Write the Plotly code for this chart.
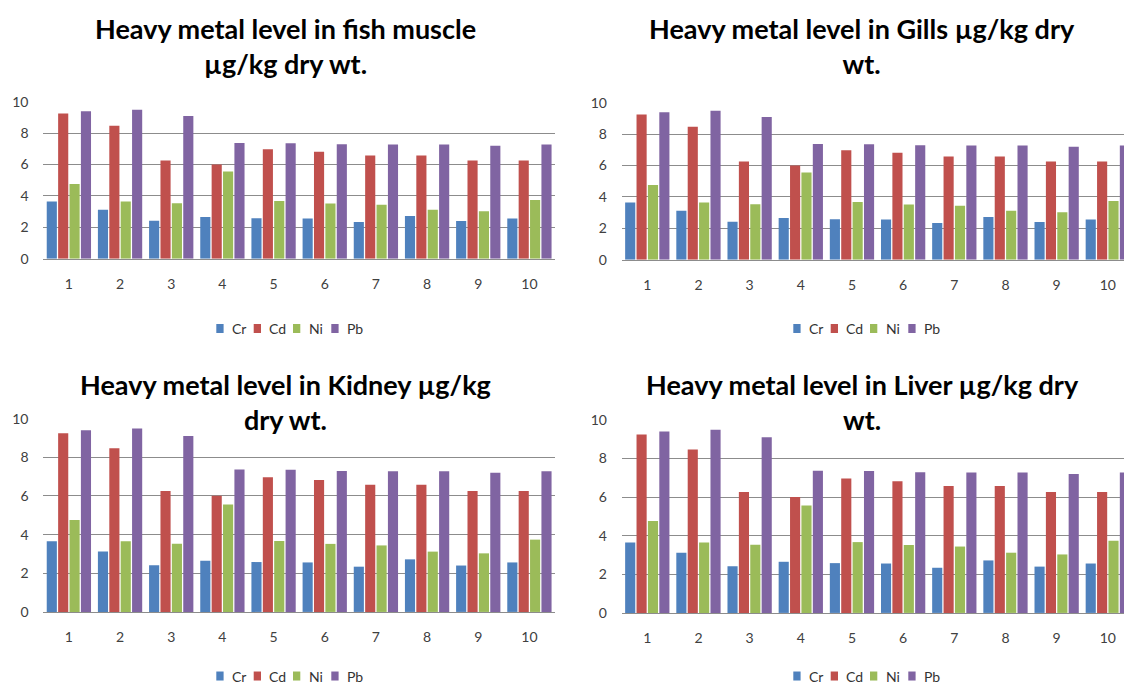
import plotly.graph_objects as go

# ---------------- data ----------------
samples = ["1", "2", "3", "4", "5", "6", "7", "8", "9", "10"]
metals = ["Cr", "Cd", "Ni", "Pb"]
cr = [3.65, 3.12, 2.42, 2.65, 2.58, 2.56, 2.34, 2.72, 2.40, 2.56]
cd = [9.25, 8.47, 6.26, 6.01, 6.97, 6.82, 6.58, 6.58, 6.26, 6.26]
ni = [4.76, 3.65, 3.53, 5.56, 3.67, 3.52, 3.44, 3.12, 3.03, 3.74]
pb = [9.40, 9.49, 9.10, 7.37, 7.36, 7.29, 7.28, 7.28, 7.20, 7.28]
y_ticks = [0, 2, 4, 6, 8, 10]
titles = [
    "Heavy metal level in fish muscle<br>µg/kg dry wt.",
    "Heavy metal level in Gills µg/kg dry<br>wt.",
    "Heavy metal level in Kidney µg/kg<br>dry wt.",
    "Heavy metal level in Liver µg/kg dry<br>wt.",
]

# ---------------- style ----------------
W, H = 1124, 688
colors = ["#4F81BD", "#C0504D", "#9BBB59", "#8064A2"]
series = [cr, cd, ni, pb]
FONT = "Lato"
GRID = "#8c8c8c"

# the captured page places the figure slightly offset/compressed vertically;
# positions below are given in screen pixels and mapped back to the figure
Y_OFF, Y_SCALE = 8.0, 0.9738

def px_x(v):
    return v / W

def px_y(v):
    return 1 - ((v - Y_OFF) / Y_SCALE) / H

panels = [
    dict(xl=43.3, xr=555, y0=257.3, y10=100.7, tx=285, ty=44.5, ly=327, off=0),
    dict(xl=621.7, xr=1124, y0=258.3, y10=101.7, tx=862, ty=44.5, ly=327, off=577),
    dict(xl=43.3, xr=555, y0=610, y10=417, tx=285, ty=400.5, ly=674, off=0),
    dict(xl=621.7, xr=1124, y0=611, y10=418.3, tx=862, ty=400.5, ly=674, off=577),
]
group_px = 51.17

fig = go.Figure()
annotations = []
shapes = []

for i, p in enumerate(panels):
    ax = "" if i == 0 else str(i + 1)
    for name, vals, col in zip(metals, series, colors):
        fig.add_trace(go.Bar(
            x=samples, y=vals, name=name, marker=dict(color=col, line=dict(width=0)),
            xaxis="x" + ax, yaxis="y" + ax, showlegend=False,
        ))
    xr_end = -0.5 + (p["xr"] - p["xl"]) / group_px
    fig.update_layout(**{
        "xaxis" + ax: dict(
            domain=[px_x(p["xl"]), px_x(p["xr"])], anchor="y" + ax,
            type="category", range=[-0.5, min(9.5, xr_end)],
            showline=True, linecolor=GRID, linewidth=1.3,
            ticks="outside", ticklen=12, tickcolor="rgba(0,0,0,0)",
            tickfont=dict(family=FONT, size=14, color="#404040"),
            showgrid=False, fixedrange=True,
        ),
        "yaxis" + ax: dict(
            domain=[px_y(p["y0"]), px_y(p["y10"])], anchor="x" + ax,
            range=[0, 10.0001], tickvals=y_ticks,
            showgrid=True, gridcolor=GRID, gridwidth=1.3,
            zeroline=False, showline=False,
            ticks="outside", ticklen=11, tickcolor="rgba(0,0,0,0)",
            tickfont=dict(family=FONT, size=14, color="#404040"),
            fixedrange=True,
        ),
    })
    annotations.append(dict(
        text="<b>" + titles[i] + "</b>", xref="paper", yref="paper",
        x=px_x(p["tx"]), y=px_y(p["ty"]), xanchor="center", yanchor="middle",
        showarrow=False, font=dict(family=FONT, size=27, color="#000000"),
    ))
    sq_x = [216.3, 253.7, 293.0, 331.3]
    for name, col, sx in zip(metals, colors, sq_x):
        x0 = sx + p["off"]
        shapes.append(dict(
            type="rect", xref="paper", yref="paper",
            x0=px_x(x0), x1=px_x(x0 + 7.3),
            y0=px_y(p["ly"] + 4.5), y1=px_y(p["ly"] - 4.5),
            fillcolor=col, line=dict(width=0),
        ))
        annotations.append(dict(
            text=name, xref="paper", yref="paper",
            x=px_x(x0 + 13.5), y=px_y(p["ly"]), xanchor="left", yanchor="middle",
            showarrow=False, font=dict(family=FONT, size=14, color="#333333"),
        ))

fig.update_layout(
    width=W, height=H, autosize=False,
    margin=dict(l=0, r=0, t=0, b=0),
    paper_bgcolor="white", plot_bgcolor="white",
    barmode="group", bargap=0.11, bargroupgap=0.11,
    annotations=annotations, shapes=shapes,
    showlegend=False,
)

fig.write_html(
    "out.html",
    config={"displayModeBar": False},
    post_script="document.documentElement.style.margin='0';document.body.style.margin='0';document.body.style.overflow='hidden';",
)
